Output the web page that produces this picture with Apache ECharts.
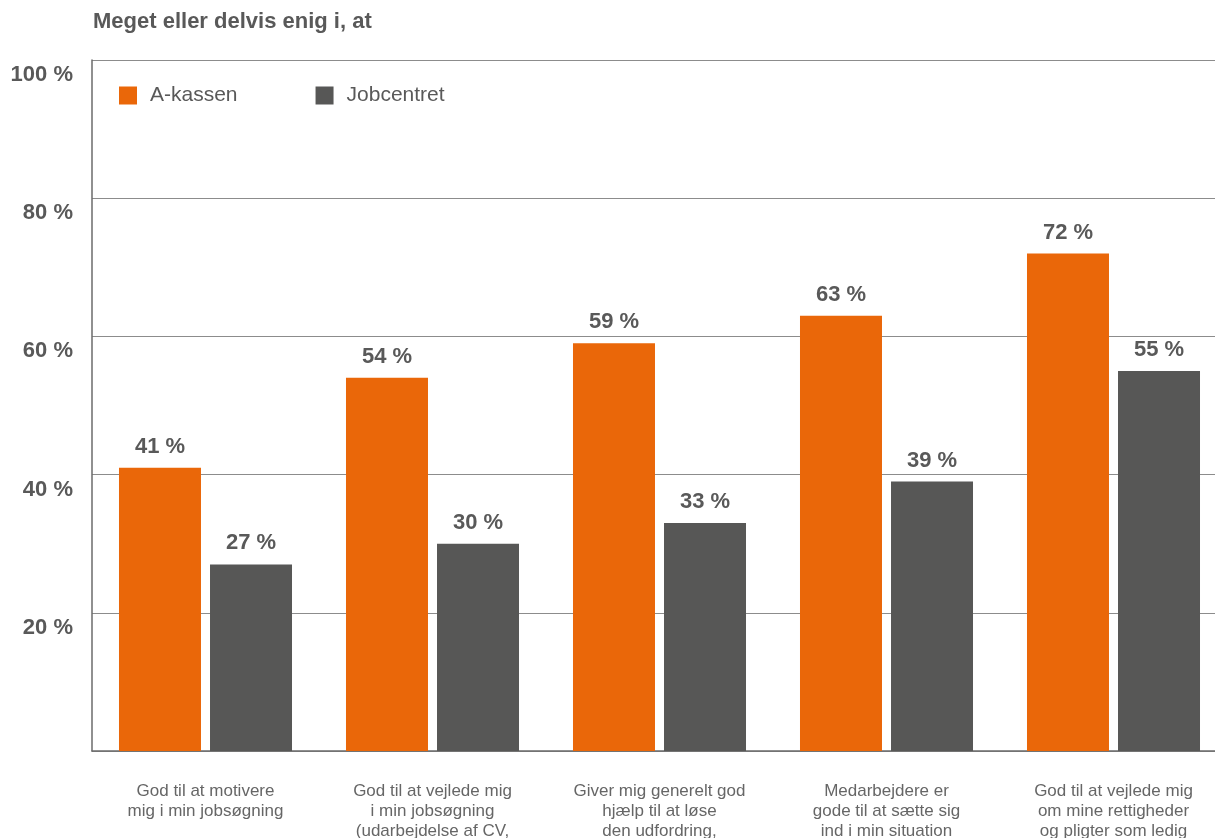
<!DOCTYPE html>
<html>
<head>
<meta charset="utf-8">
<script src="https://cdn.jsdelivr.net/npm/echarts@6/dist/echarts.min.js"></script>
<style>
  html, body { margin: 0; padding: 0; background: #fff; }
  #chart { width: 1215px; height: 838px; }
</style>
</head>
<body>
<div id="chart"></div>
<script>
// Share who agree fully or partly, per statement
const categories = [
  'God til at motivere\nmig i min jobsøgning',
  'God til at vejlede mig\ni min jobsøgning\n(udarbejdelse af CV,',
  'Giver mig generelt god\nhjælp til at løse\nden udfordring,',
  'Medarbejdere er\ngode til at sætte sig\nind i min situation',
  'God til at vejlede mig\nom mine rettigheder\nog pligter som ledig'
];
const aKassen = [41, 54, 59, 63, 72];
const jobcentret = [27, 30, 33, 39, 55];
const seriesNames = ['A-kassen', 'Jobcentret'];
const yTicks = [0, 20, 40, 60, 80, 100];

const ORANGE = '#EA6709';
const GREY = '#575756';
const TEXT = '#595959';
const FONT = '"Liberation Sans", Arial, Helvetica, sans-serif';

const chart = echarts.init(document.getElementById('chart'));

const valueLabel = {
  show: true,
  position: 'top',
  distance: 10,
  formatter: p => p.value + ' %',
  color: TEXT,
  fontFamily: FONT,
  fontWeight: 'bold',
  fontSize: 22
};

chart.setOption({
  animation: false,
  backgroundColor: '#fff',
  title: {
    text: 'Meget eller delvis enig i, at',
    left: 88,
    top: 6,
    textStyle: { color: TEXT, fontFamily: FONT, fontWeight: 'bold', fontSize: 22 }
  },
  legend: {
    data: seriesNames,
    left: 114,
    top: 80,
    itemWidth: 18,
    itemHeight: 18,
    itemGap: 78,
    icon: 'rect',
    textStyle: { color: TEXT, fontFamily: FONT, fontSize: 21, padding: [0, 0, 0, 8] }
  },
  grid: {
    left: 92, top: 60, width: 1135, height: 691,
    containLabel: false,
    outerBoundsMode: 'none'
  },
  xAxis: {
    type: 'category',
    data: categories,
    axisLine: { show: true, lineStyle: { color: '#6b6b6b', width: 1.5 } },
    axisTick: { show: false },
    axisLabel: {
      interval: 0,
      margin: 30,
      color: '#666',
      fontFamily: FONT,
      fontSize: 17,
      lineHeight: 20,
      align: 'center'
    }
  },
  yAxis: {
    type: 'value',
    min: yTicks[0],
    max: yTicks[yTicks.length - 1],
    interval: 20,
    axisLine: { show: true, lineStyle: { color: '#6b6b6b', width: 1.5 } },
    axisTick: { show: false },
    splitLine: { show: true, lineStyle: { color: '#8c8c8c', width: 1 } },
    axisLabel: {
      margin: 19,
      color: TEXT,
      fontFamily: FONT,
      fontWeight: 'bold',
      fontSize: 22,
      verticalAlign: 'top',
      padding: [4, 0, 0, 0],
      formatter: v => (v === 0 ? '' : v + ' %')
    }
  },
  series: [
    {
      name: seriesNames[0],
      type: 'bar',
      data: aKassen,
      barWidth: 82,
      barGap: '11%',
      itemStyle: { color: ORANGE },
      label: valueLabel
    },
    {
      name: seriesNames[1],
      type: 'bar',
      data: jobcentret,
      barWidth: 82,
      barGap: '11%',
      itemStyle: { color: GREY },
      label: valueLabel
    }
  ]
});
</script>
</body>
</html>
